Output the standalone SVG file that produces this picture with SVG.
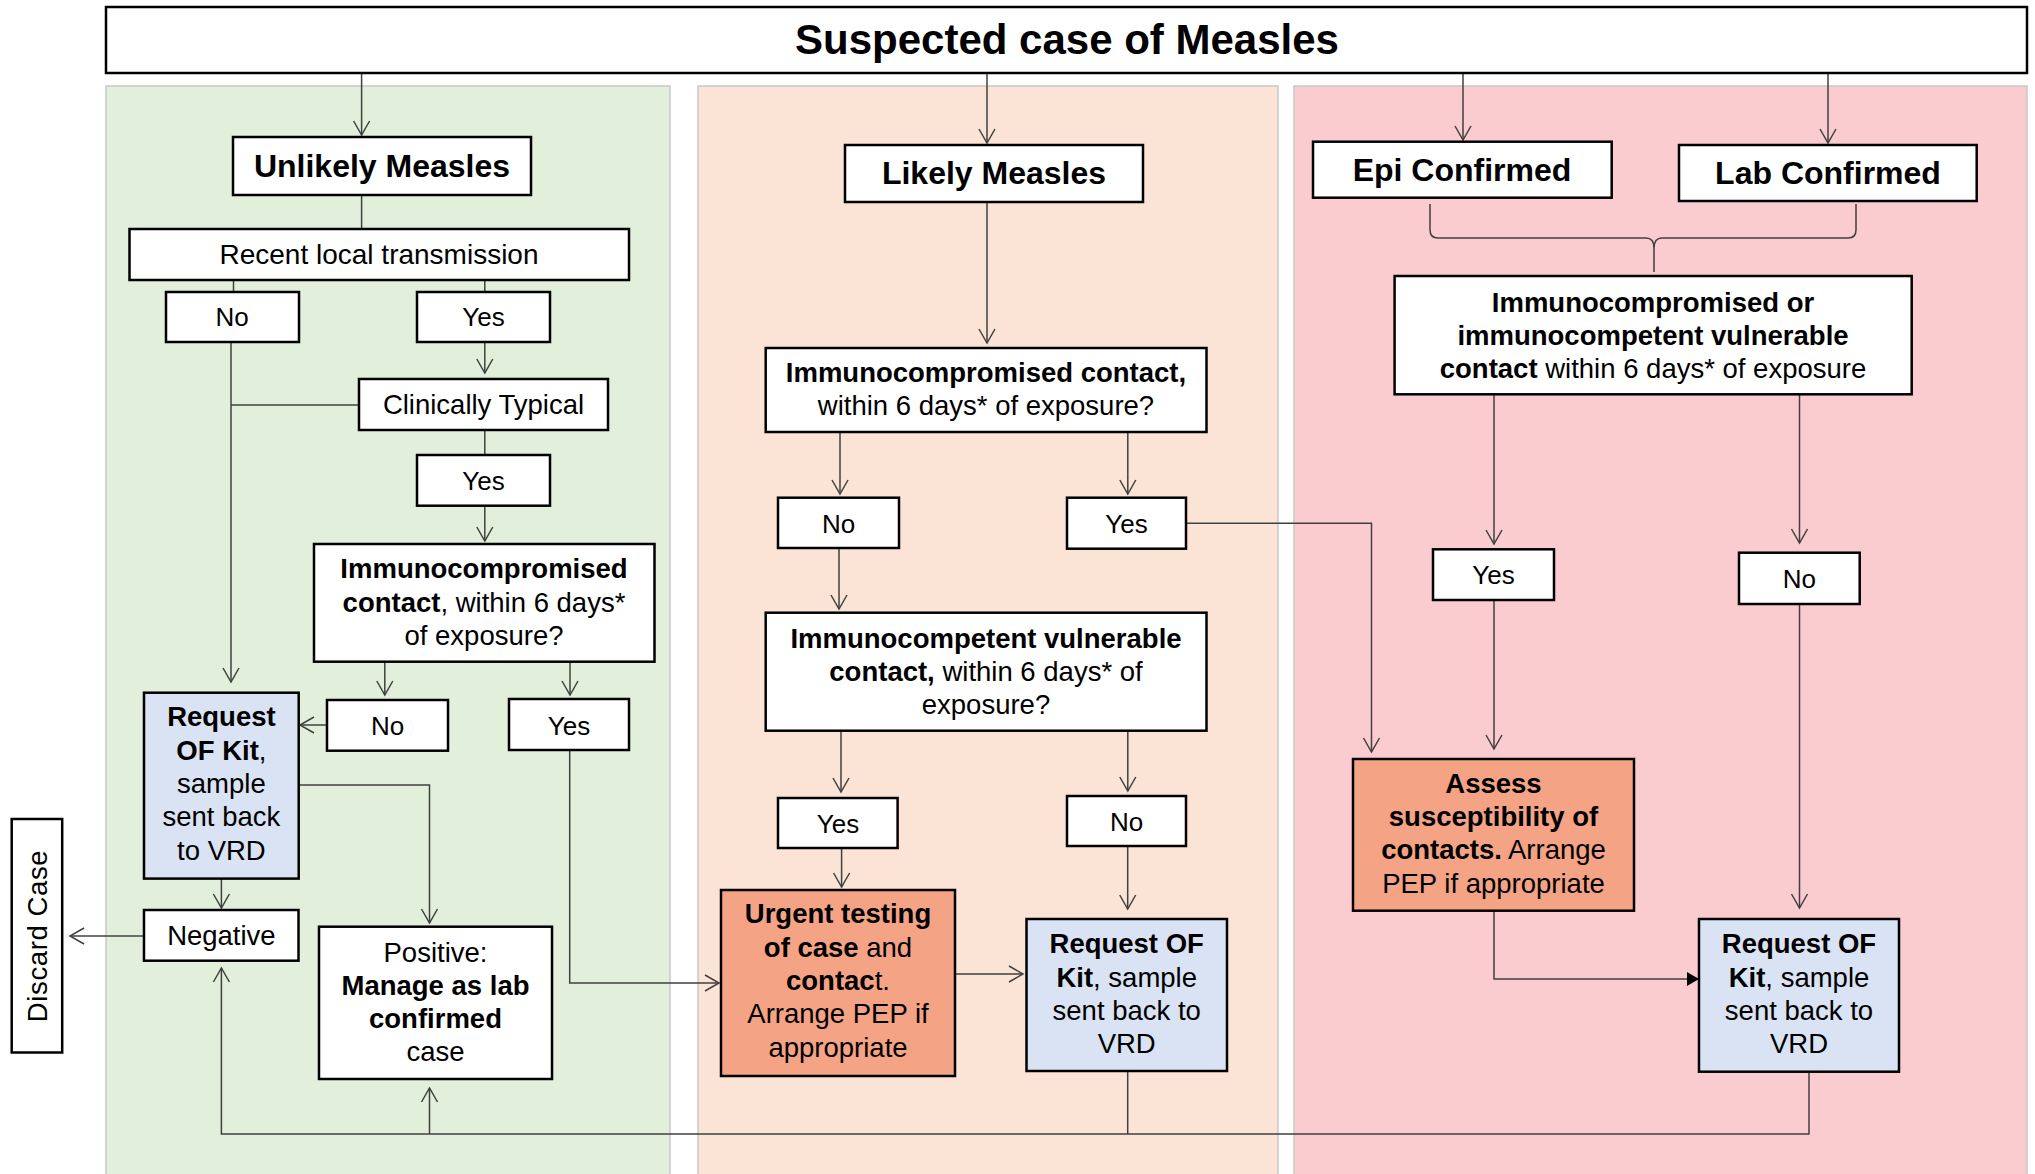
<svg xmlns="http://www.w3.org/2000/svg" width="2035" height="1174" viewBox="0 0 2035 1174">
<defs>
<style>
.panel{stroke:#c8c8c8;stroke-width:1.5}
.box{fill:#ffffff;stroke:#000;stroke-width:2.5}
.blue{fill:#dae3f3;stroke:#000;stroke-width:2.5}
.salmon{fill:#f4a385;stroke:#000;stroke-width:2.5}
text{font-family:"Liberation Sans",Arial,sans-serif;fill:#000;text-anchor:middle}
.h{font-size:32px;font-weight:bold}
.t{font-size:27.5px}
.yn{font-size:26px}
.b{font-weight:bold}
.conn path{fill:none;stroke:#404040;stroke-width:1.5}
</style>
<marker id="arr" viewBox="-16 -10 18 20" refX="0" refY="0" markerWidth="18" markerHeight="20" markerUnits="userSpaceOnUse" orient="auto">
<path d="M-14,-8 L0,0 L-14,8" fill="none" stroke="#404040" stroke-width="1.5"/>
</marker>
<marker id="tri" viewBox="-14 -9 16 18" refX="0" refY="0" markerWidth="16" markerHeight="18" markerUnits="userSpaceOnUse" orient="auto">
<path d="M-12,-7 L0,0 L-12,7 Z" fill="#000"/>
</marker>
</defs>

<g id="panels">
<rect class="panel" x="106" y="86" width="564" height="1100" fill="#e2efda"/>
<rect class="panel" x="698" y="86" width="580" height="1100" fill="#fbe4d6"/>
<rect class="panel" x="1294" y="86" width="733" height="1100" fill="#facbcf"/>
</g>

<g class="conn" id="connectors">
<path d="M361.6,73 V135" marker-end="url(#arr)"/>
<path d="M987,73 V143" marker-end="url(#arr)"/>
<path d="M1463,73 V140" marker-end="url(#arr)"/>
<path d="M1828,73 V143" marker-end="url(#arr)"/>
<path d="M361.6,195 V229"/>
<path d="M233.5,280 V292"/>
<path d="M484.8,280 V292"/>
<path d="M484.8,342 V373" marker-end="url(#arr)"/>
<path d="M231,342 V682" marker-end="url(#arr)"/>
<path d="M359,405 H231"/>
<path d="M484.8,430 V455"/>
<path d="M484.8,505.7 V541" marker-end="url(#arr)"/>
<path d="M384.8,661.7 V695" marker-end="url(#arr)"/>
<path d="M570,661.7 V695" marker-end="url(#arr)"/>
<path d="M327,725 H300" marker-end="url(#arr)"/>
<path d="M298.7,785 H429.5 V923" marker-end="url(#arr)"/>
<path d="M569.7,750 V983 H719" marker-end="url(#arr)"/>
<path d="M221.4,878 V908" marker-end="url(#arr)"/>
<path d="M144,936 H70" marker-end="url(#arr)"/>
<path d="M1809,1071.7 V1134 H221.4 V968" marker-end="url(#arr)"/>
<path d="M429.5,1134 V1088" marker-end="url(#arr)"/>
<path d="M1127.7,1071 V1134"/>
<path d="M987,202 V343" marker-end="url(#arr)"/>
<path d="M840,432 V494" marker-end="url(#arr)"/>
<path d="M1127.8,432 V494" marker-end="url(#arr)"/>
<path d="M839,548 V609" marker-end="url(#arr)"/>
<path d="M1186,523.3 H1371.5 V752" marker-end="url(#arr)"/>
<path d="M841,730.7 V792" marker-end="url(#arr)"/>
<path d="M1127.8,730.7 V791" marker-end="url(#arr)"/>
<path d="M841.6,848 V887" marker-end="url(#arr)"/>
<path d="M955,974 H1023" marker-end="url(#arr)"/>
<path d="M1127.7,846 V909" marker-end="url(#arr)"/>
<path d="M1430,204 V230 Q1430,238 1438,238 H1646 Q1654,238 1654,248 V272 M1856,204 V230 Q1856,238 1848,238 H1662 Q1654,238 1654,248"/>
<path d="M1494,394.3 V544" marker-end="url(#arr)"/>
<path d="M1799.5,394.3 V543" marker-end="url(#arr)"/>
<path d="M1494,600 V749" marker-end="url(#arr)"/>
<path d="M1494,910.7 V979 H1699" marker-end="url(#tri)"/>
<path d="M1799.5,604 V908" marker-end="url(#arr)"/>
</g>

<g id="title">
<rect class="box" x="106" y="7" width="1921" height="66"/>
<text x="1067" y="54" style="font-size:42px;font-weight:bold">Suspected case of Measles</text>
</g>

<g id="unlikely">
<rect class="box" x="233" y="137" width="298" height="58"/>
<text class="h" x="382" y="177">Unlikely Measles</text>
</g>
<g id="recent">
<rect class="box" x="129.5" y="229" width="499.5" height="51"/>
<text class="t" x="379" y="264" style="font-size:28px">Recent local transmission</text>
</g>
<g id="no1">
<rect class="box" x="166" y="292" width="133" height="50"/>
<text class="yn" x="232" y="325.5">No</text>
</g>
<g id="yes1">
<rect class="box" x="417" y="292" width="133" height="50"/>
<text class="yn" x="483.5" y="325.5">Yes</text>
</g>
<g id="clinically">
<rect class="box" x="359" y="379" width="249" height="51"/>
<text class="t" x="483.5" y="413.5">Clinically Typical</text>
</g>
<g id="yes2">
<rect class="box" x="417" y="455" width="133" height="50.7"/>
<text class="yn" x="483.5" y="489.5">Yes</text>
</g>
<g id="immuno-left">
<rect class="box" x="314" y="544" width="340.5" height="117.7"/>
<text class="t" x="484" y="578"><tspan class="b">Immunocompromised</tspan></text>
<text class="t" x="484" y="611.7"><tspan class="b">contact</tspan>, within 6 days*</text>
<text class="t" x="484" y="644.5">of exposure?</text>
</g>
<g id="no3">
<rect class="box" x="327" y="700" width="121" height="50.7"/>
<text class="yn" x="387.5" y="735">No</text>
</g>
<g id="yes3">
<rect class="box" x="509" y="699" width="120" height="51"/>
<text class="yn" x="569" y="734.5">Yes</text>
</g>
<g id="request-left">
<rect class="blue" x="144" y="692.7" width="154.7" height="185.9"/>
<text class="t" x="221.4" y="726"><tspan class="b">Request</tspan></text>
<text class="t" x="221.4" y="759.5"><tspan class="b">OF Kit</tspan>,</text>
<text class="t" x="221.4" y="793">sample</text>
<text class="t" x="221.4" y="826.3">sent back</text>
<text class="t" x="221.4" y="859.5">to VRD</text>
</g>
<g id="negative">
<rect class="box" x="144" y="910" width="154.5" height="50.7"/>
<text class="t" x="221.4" y="945">Negative</text>
</g>
<g id="discard">
<rect class="box" x="11.7" y="819" width="50.5" height="233.5"/>
<text class="t" transform="translate(46.5,936) rotate(-90)" style="letter-spacing:0.6px">Discard Case</text>
</g>
<g id="positive">
<rect class="box" x="319" y="926.7" width="233" height="152.3"/>
<text class="t" x="435.5" y="961.7">Positive:</text>
<text class="t b" x="435.5" y="995">Manage as lab</text>
<text class="t b" x="435.5" y="1028">confirmed</text>
<text class="t" x="435.5" y="1061">case</text>
</g>

<g id="likely">
<rect class="box" x="845" y="145" width="298" height="57"/>
<text class="h" x="994" y="184">Likely Measles</text>
</g>
<g id="immuno-mid">
<rect class="box" x="765.7" y="348" width="440.8" height="84"/>
<text class="t" x="986" y="381.7"><tspan class="b">Immunocompromised  contact,</tspan></text>
<text class="t" x="986" y="415">within 6 days* of exposure?</text>
</g>
<g id="no-m1">
<rect class="box" x="778" y="497.7" width="121" height="50.3"/>
<text class="yn" x="838.5" y="533">No</text>
</g>
<g id="yes-m1">
<rect class="box" x="1067" y="497.7" width="119" height="51"/>
<text class="yn" x="1126.5" y="533">Yes</text>
</g>
<g id="immunocompetent">
<rect class="box" x="765.7" y="612.7" width="440.8" height="118"/>
<text class="t" x="986" y="647.7"><tspan class="b">Immunocompetent  vulnerable</tspan></text>
<text class="t" x="986" y="681"><tspan class="b">contact,</tspan> within 6 days* of</text>
<text class="t" x="986" y="714.3">exposure?</text>
</g>
<g id="yes-m2">
<rect class="box" x="778" y="798" width="119.6" height="50"/>
<text class="yn" x="838" y="832.5">Yes</text>
</g>
<g id="no-m2">
<rect class="box" x="1067" y="796" width="119" height="50"/>
<text class="yn" x="1126.5" y="830.5">No</text>
</g>
<g id="urgent">
<rect class="salmon" x="721" y="890" width="234" height="186"/>
<text class="t" x="838" y="923"><tspan class="b">Urgent testing</tspan></text>
<text class="t" x="838" y="956.7"><tspan class="b">of case</tspan> and</text>
<text class="t" x="838" y="990"><tspan class="b">contac</tspan>t.</text>
<text class="t" x="838" y="1023.3">Arrange PEP if</text>
<text class="t" x="838" y="1056.5">appropriate</text>
</g>
<g id="request-mid">
<rect class="blue" x="1026.5" y="919" width="200.5" height="152"/>
<text class="t" x="1126.7" y="953"><tspan class="b">Request OF</tspan></text>
<text class="t" x="1126.7" y="986.7"><tspan class="b">Kit</tspan>, sample</text>
<text class="t" x="1126.7" y="1020">sent back to</text>
<text class="t" x="1126.7" y="1053.3">VRD</text>
</g>

<g id="epi">
<rect class="box" x="1313" y="141.7" width="298.7" height="56"/>
<text class="h" x="1462" y="180.5">Epi Confirmed</text>
</g>
<g id="lab">
<rect class="box" x="1679" y="145" width="297.7" height="56"/>
<text class="h" x="1828" y="183.5">Lab Confirmed</text>
</g>
<g id="immuno-right">
<rect class="box" x="1394.6" y="276" width="517.1" height="118.3"/>
<text class="t" x="1653" y="311.7"><tspan class="b">Immunocompromised  or</tspan></text>
<text class="t" x="1653" y="345"><tspan class="b">immunocompetent  vulnerable</tspan></text>
<text class="t" x="1653" y="378"><tspan class="b">contact</tspan> within 6 days* of exposure</text>
</g>
<g id="yes-r">
<rect class="box" x="1433" y="549.3" width="121" height="50.7"/>
<text class="yn" x="1493.5" y="584">Yes</text>
</g>
<g id="no-r">
<rect class="box" x="1739" y="552.7" width="120.7" height="51.3"/>
<text class="yn" x="1799.3" y="587.5">No</text>
</g>
<g id="assess">
<rect class="salmon" x="1353" y="759" width="281" height="151.7"/>
<text class="t" x="1493.5" y="792.7"><tspan class="b">Assess</tspan></text>
<text class="t" x="1493.5" y="826"><tspan class="b">susceptibility of</tspan></text>
<text class="t" x="1493.5" y="859.3"><tspan class="b">contacts.</tspan> Arrange</text>
<text class="t" x="1493.5" y="892.7">PEP if appropriate</text>
</g>
<g id="request-right">
<rect class="blue" x="1699" y="919" width="200" height="152.7"/>
<text class="t" x="1799" y="953"><tspan class="b">Request OF</tspan></text>
<text class="t" x="1799" y="986.7"><tspan class="b">Kit</tspan>, sample</text>
<text class="t" x="1799" y="1020">sent back to</text>
<text class="t" x="1799" y="1053.3">VRD</text>
</g>
</svg>
